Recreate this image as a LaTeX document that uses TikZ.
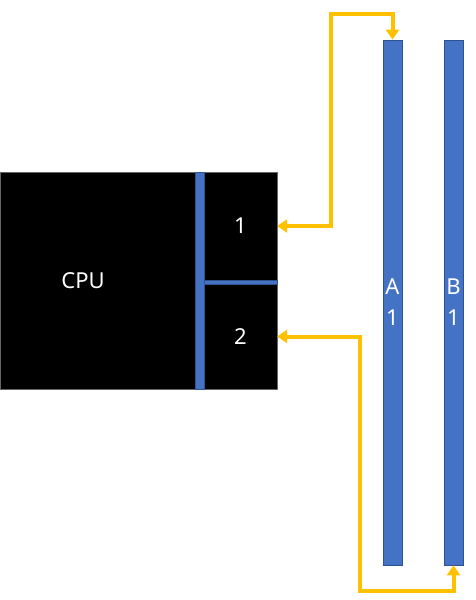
\documentclass[tikz,border=0pt]{standalone}
\usepackage{fontspec}
\setmainfont{Noto Sans}
\usetikzlibrary{arrows.meta}
\definecolor{slotBlue}{HTML}{4472C4}
\definecolor{slotEdge}{HTML}{2F528F}
\definecolor{busYellow}{HTML}{FFC000}
\tikzset{
  memSlot/.style={
    draw=slotEdge, fill=slotBlue, line width=0.75pt,
    minimum width=19pt, minimum height=525pt, inner sep=0pt,
    text=white, align=center, font=\fontsize{22}{31}\selectfont
  },
  cpuBar/.style={
    draw=slotEdge, fill=slotBlue, line width=0.6pt
  },
  portCell/.style={
    minimum width=73pt, inner sep=0pt,
    text=white, font=\fontsize{22}{26}\selectfont
  },
  busLine/.style={
    draw=busYellow, line width=4pt,
    {Triangle[width=13pt,length=10pt]}-{Triangle[width=13pt,length=10pt]}
  }
}
\newlength\slotGap
\setlength\slotGap{61pt}

\begin{document}
\begin{tikzpicture}[x=1pt,y=-1pt]
    \useasboundingbox (0,0) rectangle (475,600);

    % cpu block
    \node[draw=black!60, fill=black, line width=0.6pt, inner sep=0pt,
          minimum width=277pt, minimum height=217pt] (cpuBox) at (138.5,280.5) {};
    \node[text=white, font=\fontsize{22}{26}\selectfont] (cpuLabel) at (83,281) {CPU};

    % channel bars
    \draw[cpuBar] (195,172) rectangle (204,389);
    \draw[cpuBar] (204,280) rectangle (277,284);

    % channel ports
    \node[portCell, minimum height=108pt] (port1) at (240.5,226) {1};
    \node[portCell, minimum height=105pt] (port2) at (240.5,336.5) {2};

    % memory slots
    \node[memSlot] (slotA) at (392.5,302.5) {A\\1};
    \node[memSlot] (slotB) at ([xshift=\slotGap]slotA) {B\\1};

    % bus wiring
    \coordinate (bendA) at (331,14);
    \coordinate (bendB) at (360,591);
    \draw[busLine] (port1.east) -| (bendA) -| (slotA.north);
    \draw[busLine] (port2.east) -| (bendB) -| (slotB.south);
\end{tikzpicture}
\end{document}
